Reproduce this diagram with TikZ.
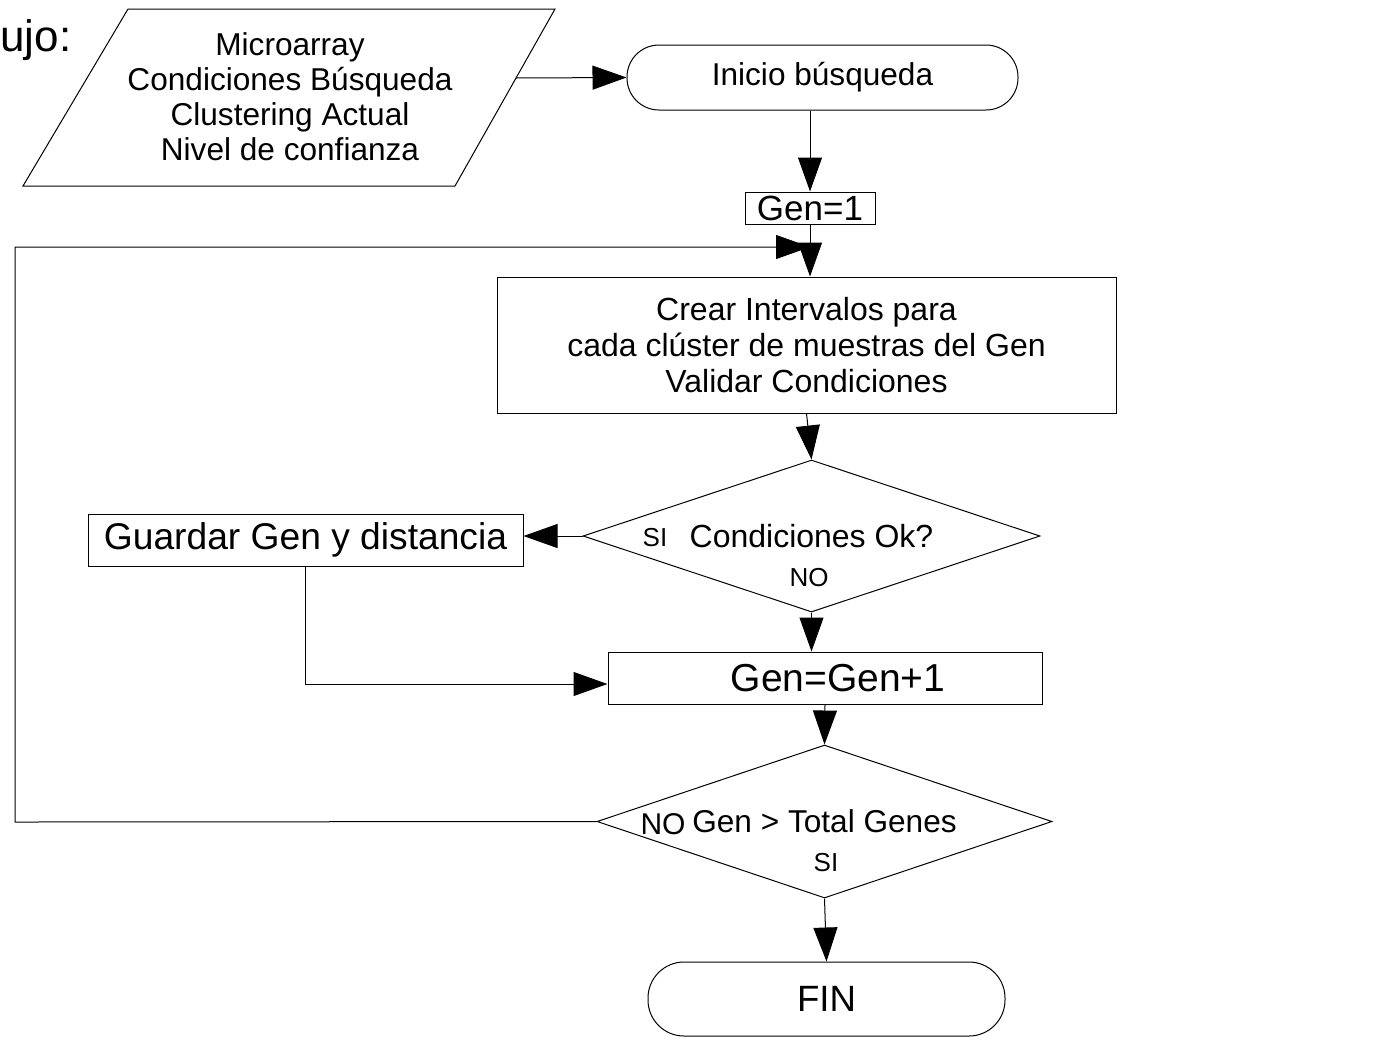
\documentclass[tikz,border=0pt]{standalone}
\usepackage{fontspec}
\setmainfont{Liberation Sans}
\usetikzlibrary{arrows.meta,shapes.geometric}

\tikzset{
    caja/.style={draw, rectangle, inner sep=0pt, align=center},
    decision/.style={draw, diamond, inner sep=0pt, aspect=3},
    terminal/.style={draw, rectangle, rounded corners=#1, inner sep=0pt},
    flecha/.style={-{Triangle[length=17pt,width=12pt]}},
    txt/.style={inner sep=0pt, align=center}
}

\begin{document}
\begin{tikzpicture}[x=0.5pt, y=-0.5pt, line width=0.5pt]
    \useasboundingbox (0,0) rectangle (1400,1045);
    % titulo cortado por el borde
    \node[txt, anchor=base west, font=\fontsize{22}{24}\selectfont] (titulo) at (0,51) {ujo:};
    % datos de entrada (paralelogramo)
    \draw (23,186) -- (128,9) -- (555,9) -- (455,186) -- cycle;
    \node[txt, font=\fontsize{15.8}{17.5}\selectfont] (datos) at (290,97)
        {Microarray\\Condiciones Búsqueda\\Clustering Actual\\Nivel de confianza};
    \coordinate (datosE) at (516,78);

    \node[terminal=16pt, minimum width=195.5pt, minimum height=32.5pt, font=\fontsize{15.8}{18}\selectfont] (ini) at (822.5,77.5) {Inicio búsqueda};
    \node[caja, minimum width=65pt, minimum height=16pt, font=\fontsize{17.5}{20}\selectfont] (gen1) at (810,208) {Gen=1};
    \node[caja, minimum width=309.5pt, minimum height=68pt, font=\fontsize{16}{18}\selectfont] (crear) at (806.5,345)
        {Crear Intervalos para\\cada clúster de muestras del Gen\\Validar Condiciones};
    \node[decision, minimum width=228.5pt, minimum height=76pt, font=\fontsize{16}{18}\selectfont] (dec1) at (811.5,536) {Condiciones Ok?};
    \node[txt, font=\fontsize{13}{15}\selectfont] (si1) at (655,538) {SI};
    \node[txt, font=\fontsize{13}{15}\selectfont] (no1) at (809,578) {NO};
    \node[caja, minimum width=217.5pt, minimum height=26pt, font=\fontsize{18.6}{21}\selectfont] (guardar) at (305.5,540) {Guardar Gen y distancia};
    \node[caja, minimum width=217pt, minimum height=26pt, font=\fontsize{19.5}{22}\selectfont] (gen2) at (825,678) {\hspace*{13pt}Gen=Gen+1};
    \node[decision, minimum width=227.5pt, minimum height=76.5pt, font=\fontsize{15.8}{18}\selectfont] (dec2) at (824.5,821.5) {Gen > Total Genes};
    \node[txt, font=\fontsize{15}{17}\selectfont] (no2) at (663,824) {NO};
    \node[txt, font=\fontsize{13}{15}\selectfont] (si2) at (826,863) {SI};
    \node[terminal=18pt, minimum width=178.5pt, minimum height=37pt, font=\fontsize{18.3}{21}\selectfont] (fin) at (826.5,999) {FIN};

    % conectores
    \coordinate (retorno) at (810,247);
    \draw[flecha] (datosE) -- (ini.west);
    \draw[flecha] (ini.south -| gen1.north) -- (gen1.north);
    \draw[flecha] (gen1.south) -- (gen1.south |- crear.north);
    \draw[flecha] (dec2.west) -- (15,822) -- (15,247) -- (retorno);
    \draw[flecha] (dec1.west) -- (dec1.west -| guardar.east);
    \draw[flecha] (dec1.south) -- (dec1.south |- gen2.north);
    \draw[flecha] (guardar.south) |- ([yshift=-3pt]gen2.west);
    \foreach \a/\b in {crear/dec1, gen2/dec2, dec2/fin}
        \draw[flecha] (\a.south) -- (\b.north);
\end{tikzpicture}
\end{document}
